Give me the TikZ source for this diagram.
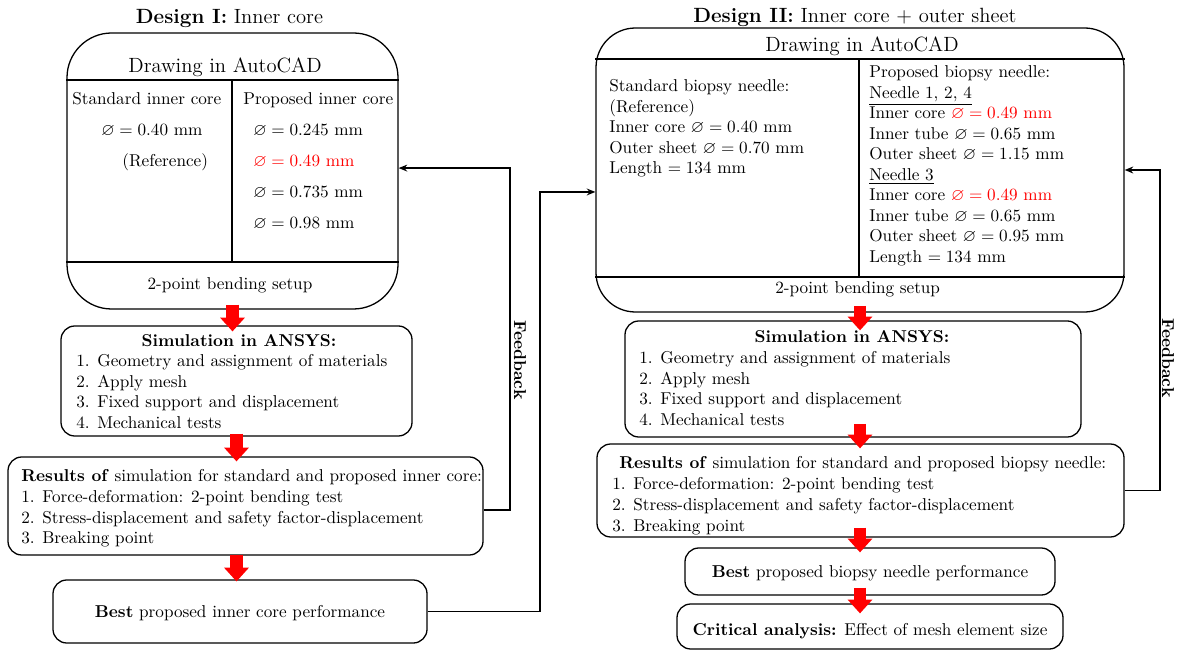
\documentclass[tikz,border=0pt]{standalone}
\usepackage{amssymb}
\usetikzlibrary{fit,arrows.meta}
\begin{document}
\begin{tikzpicture}[x=0.5824pt,y=-0.5824pt,
  txt/.style={anchor=base west, inner sep=0pt},
  ctxt/.style={anchor=base, inner sep=0pt},
  head/.style={font=\large},
  bigbox/.style={draw, line width=0.75pt, rounded corners=26pt, inner sep=0pt},
  box/.style={draw, line width=0.75pt, rounded corners=8pt, inner sep=0pt},
  rule/.style={line width=0.7pt},
  flow/.style={draw=red, line width=7pt,
    -{Triangle[width=14.5pt,length=8pt,line width=0pt,fill=red]}},
  fb/.style={line width=0.85pt, -{Stealth[length=5pt,width=4pt]}},
  fblabel/.style={rotate=-90, font=\bfseries, inner sep=0pt},
]
\useasboundingbox (0,0) rectangle (1178,650);

% ---------------- Design I ----------------
\node[ctxt, head] (title1) at (229.5,24) {\textbf{Design I:} Inner core};
\node[bigbox, fit={(67,33) (398,309)}] (d1) {};
\coordinate (h1) at (0,80);
\coordinate (h1b) at (0,262);
\coordinate (v1) at (232,0);
\draw[rule] (d1.west |- h1) -- (d1.east |- h1);
\draw[rule] (d1.west |- h1b) -- (d1.east |- h1b);
\draw[rule] (v1 |- h1) -- (v1 |- h1b);
\node[txt, head] (cad1) at (128,73) {Drawing in AutoCAD};
\node[txt] (std1) at (72,105) {Standard inner core};
\node[txt] (std2) at (101,136) {$\varnothing = 0.40$ mm};
\node[txt] (std3) at (122,167) {(Reference)};
\node[txt] (pro1) at (243,105) {Proposed inner core};
\node[txt] (pro2) at (253,136) {$\varnothing = 0.245$ mm};
\node[txt, text=red] (pro3) at (253,167) {$\varnothing = 0.49$ mm};
\node[txt] (pro4) at (253,198) {$\varnothing = 0.735$ mm};
\node[txt] (pro5) at (253,229) {$\varnothing = 0.98$ mm};
\node[ctxt] (bend1) at (230,290) {2-point bending setup};

\node[box, fit={(61,326) (412,436)}] (sim1) {};
\node[ctxt] (sim1t) at (239,347) {\textbf{Simulation in ANSYS:}};
\node[txt] (sim1a) at (76,367) {1. Geometry and assignment of materials};
\node[txt] (sim1b) at (76,388) {2. Apply mesh};
\node[txt] (sim1c) at (76,408) {3. Fixed support and displacement};
\node[txt] (sim1d) at (76,429) {4. Mechanical tests};

\node[box, fit={(8,457) (483,555)}] (res1) {};
\node[txt] (res1t) at (21,482) {\textbf{Results of} simulation for standard and proposed inner core:};
\node[txt] (res1a) at (21,502.5) {1. Force-deformation: 2-point bending test};
\node[txt] (res1b) at (21,523) {2. Stress-displacement and safety factor-displacement};
\node[txt] (res1c) at (21,543.5) {3. Breaking point};

\node[box, fit={(53,580) (427,643)}] (best1) {};
\node[ctxt] (best1t) at (240,617) {\textbf{Best} proposed inner core performance};

% red flow arrows, Design I
\draw[flow] ([yshift=2.9pt]d1.south) -- ([yshift=-3.5pt]d1.south |- sim1.north);
\draw[flow] ([yshift=1.7pt]sim1.south) -- ([yshift=-2.9pt]sim1.south |- res1.north);
\draw[flow] ([yshift=0.6pt]sim1.south |- res1.south) -- ([yshift=-1.2pt]sim1.south |- best1.north);

% feedback loop, Design I
\coordinate (fbx1) at (510,0);
\draw[fb] ([yshift=-2.3pt]res1.east) -- ([yshift=-2.3pt]res1.east -| fbx1)
  -- ([yshift=1.7pt]d1.east -| fbx1) -- ([yshift=1.7pt]d1.east);
\node[fblabel] (fbl1) at (520,360) {Feedback};

% ---------------- Design II ----------------
\node[txt, head] (title2) at (693,23) {\textbf{Design II:} Inner core + outer sheet};
\node[bigbox, rounded corners=23pt, fit={(596,28) (1124,312)}] (d2) {};
\coordinate (h2) at (0,59);
\coordinate (h2b) at (0,277);
\coordinate (v2) at (859,0);
\draw[rule] (d2.west |- h2) -- (d2.east |- h2);
\draw[rule] (d2.west |- h2b) -- (d2.east |- h2b);
\draw[rule] (v2 |- h2) -- (v2 |- h2b);
\node[txt, head] (cad2) at (765,52) {Drawing in AutoCAD};
\foreach \s [count=\k from 0] in {
  {Standard biopsy needle:},
  {(Reference)},
  {Inner core $\varnothing = 0.40$ mm},
  {Outer sheet $\varnothing = 0.70$ mm},
  {Length $= 134$ mm}}
  \node[txt] (sb\k) at (609,{92+20.5*\k}) {\s};
\foreach \s [count=\k from 0] in {
  {Proposed biopsy needle:},
  {\underline{Needle 1, 2, 4}},
  {Inner core \textcolor{red}{$\varnothing = 0.49$ mm}},
  {Inner tube $\varnothing = 0.65$ mm},
  {Outer sheet $\varnothing = 1.15$ mm},
  {\underline{Needle 3}},
  {Inner core \textcolor{red}{$\varnothing = 0.49$ mm}},
  {Inner tube $\varnothing = 0.65$ mm},
  {Outer sheet $\varnothing = 0.95$ mm},
  {Length $= 134$ mm}}
  \node[txt] (pb\k) at (869,{78+20.5*\k}) {\s};
\node[txt] (bend2) at (775,294) {2-point bending setup};

\node[box, fit={(625,321) (1081,437)}] (sim2) {};
\node[ctxt] (sim2t) at (852,343) {\textbf{Simulation in ANSYS:}};
\node[txt] (sim2a) at (639,364) {1. Geometry and assignment of materials};
\node[txt] (sim2b) at (639,384.5) {2. Apply mesh};
\node[txt] (sim2c) at (639,405) {3. Fixed support and displacement};
\node[txt] (sim2d) at (639,425.5) {4. Mechanical tests};

\node[box, fit={(597,444) (1124,537)}] (res2) {};
\node[txt] (res2t) at (619,469) {\textbf{Results of} simulation for standard and proposed biopsy needle:};
\node[txt] (res2a) at (612,490) {1. Force-deformation: 2-point bending test};
\node[txt] (res2b) at (612,510.5) {2. Stress-displacement and safety factor-displacement};
\node[txt] (res2c) at (612,531) {3. Breaking point};

\node[box, fit={(685,548) (1055,595)}] (best2) {};
\node[ctxt] (best2t) at (870,577) {\textbf{Best} proposed biopsy needle performance};

\node[box, fit={(677,604) (1063,649)}] (crit) {};
\node[ctxt] (critt) at (870,635) {\textbf{Critical analysis:} Effect of mesh element size};

% red flow arrows, Design II
\draw[flow] ([yshift=4pt]d2.south) -- ([yshift=-5.8pt]d2.south |- sim2.north);
\draw[flow] ([yshift=8pt]d2.south |- sim2.south) -- ([yshift=-2.9pt]d2.south |- res2.north);
\draw[flow] ([yshift=5.8pt]d2.south |- res2.south) -- ([yshift=-2.9pt]d2.south |- best2.north);
\draw[flow] ([yshift=4.7pt]d2.south |- best2.south) -- ([yshift=-5.8pt]d2.south |- crit.north);

% link from Design I result into Design II
\coordinate (lnx) at (540,0);
\draw[fb] (best1.east) -- (best1.east -| lnx)
  -- ([yshift=-12.8pt]d2.west -| lnx) -- ([yshift=-12.8pt]d2.west);

% feedback loop, Design II
\coordinate (fbx2) at (1160,0);
\draw[fb] (res2.east) -- (res2.east -| fbx2) -- (d2.east -| fbx2) -- (d2.east);
\node[fblabel] (fbl2) at (1168,358) {Feedback};
\end{tikzpicture}
\end{document}
